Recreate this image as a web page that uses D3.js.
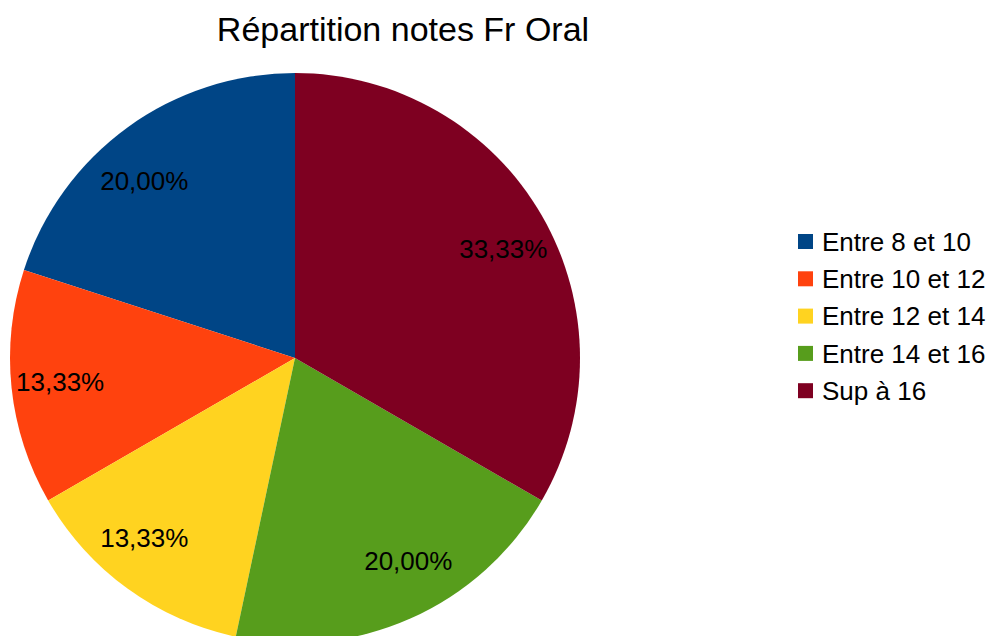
<!DOCTYPE html>
<meta charset="utf-8">
<head>
<script src="https://cdn.jsdelivr.net/npm/d3@7"></script>
<style>
body { margin: 0; background: #fff; }
text { font-family: "Liberation Sans", Arial, sans-serif; fill: #000; }
</style>
</head>
<body>
<svg id="chart"></svg>
<script>
var categories = ["Entre 8 et 10", "Entre 10 et 12", "Entre 12 et 14", "Entre 14 et 16", "Sup à 16"];
var counts = [3, 2, 2, 3, 5];
var colors = ["#004586", "#ff420e", "#ffd320", "#579d1c", "#7e0021"];

var width = 990, height = 636;
var cx = 295, cy = 358, radius = 285;

var svg = d3.select("#chart").attr("width", width).attr("height", height);

svg.append("text")
    .attr("x", 403).attr("y", 41)
    .attr("text-anchor", "middle")
    .style("font-size", "34px")
    .text("Répartition notes Fr Oral");

var data = categories.map(function(c, i) { return {name: c, value: counts[i], color: colors[i]}; });
var total = d3.sum(counts);

// LibreOffice starts at 12 o'clock and goes counterclockwise
var pie = d3.pie().sort(null).value(function(d) { return d.value; })
    .startAngle(0).endAngle(-2 * Math.PI);
var arc = d3.arc().innerRadius(0).outerRadius(radius);

var g = svg.append("g").attr("transform", "translate(" + cx + "," + cy + ")");
var arcs = pie(data);

g.selectAll("path")
  .data(arcs)
  .enter().append("path")
  .attr("d", arc)
  .attr("fill", function(d) { return d.data.color; });

var fmt = function(v) { return (v / total * 100).toFixed(2).replace(".", ",") + "%"; };

var labels = g.selectAll("text.lbl")
  .data(arcs)
  .enter().append("text")
  .attr("class", "lbl")
  .attr("text-anchor", "middle")
  .attr("dy", "0.36em")
  .style("font-size", "26px")
  .text(function(d) { return fmt(d.data.value); });

// push each label sideways by part of its own width
labels.attr("transform", function(d) {
  var a = (d.startAngle + d.endAngle) / 2;
  var s = Math.sin(a), c = -Math.cos(a);
  var w = this.getComputedTextLength();
  var x = s * radius * 0.726 + Math.sign(s) * w * 0.33;
  var y = c * radius * 0.775 + 1;
  return "translate(" + x + "," + y + ")";
});

var legend = svg.append("g").attr("transform", "translate(798,241.5)");
var rows = legend.selectAll("g")
  .data(data)
  .enter().append("g")
  .attr("transform", function(d, i) { return "translate(0," + (i * 37.3) + ")"; });
rows.append("rect")
  .attr("x", 0).attr("y", -7.5)
  .attr("width", 15).attr("height", 15)
  .attr("fill", function(d) { return d.color; });
rows.append("text")
  .attr("x", 24).attr("dy", "0.36em")
  .style("font-size", "26px")
  .text(function(d) { return d.name; });
</script>
</body>
